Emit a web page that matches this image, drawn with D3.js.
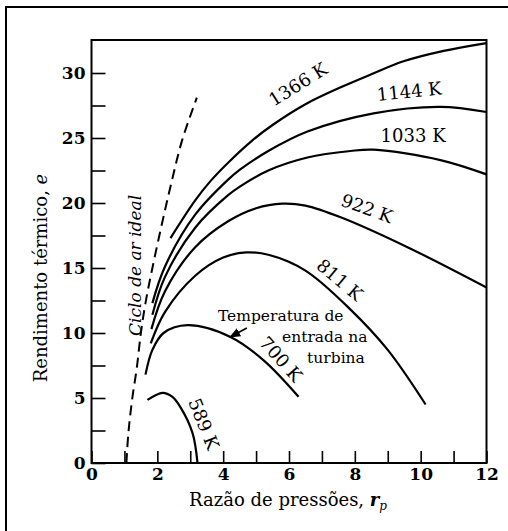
<!DOCTYPE html>
<html>
<head>
<meta charset="utf-8">
<script src="https://cdn.jsdelivr.net/npm/d3@7"></script>
<style>
  body { margin: 0; background: #fff; }
  svg { display: block; }
  text { font-family: "DejaVu Serif", serif; fill: #000; }
</style>
</head>
<body>
<svg id="chart" width="508" height="531"></svg>
<script>
// ciclo ideal (tracejado) : [r_p, e]
const ideal = [[1.06, 0], [1.12, 2.3], [1.23, 4.8], [1.38, 7.4], [1.5, 10], [1.64, 12.3],
  [1.85, 15], [2.14, 18.4], [2.45, 21.8], [2.75, 24.8], [3.2, 28.1]];

const t1366 = [[2.4, 17.3], [3.15, 20.2], [3.62, 21.7], [4.15, 23.1], [4.88, 24.8], [5.5, 26.0],
  [6.5, 27.6], [7.57, 28.9], [8.5, 29.9], [9.48, 30.9], [10.7, 31.7], [12, 32.3]];
const t1144 = [[1.85, 12.3], [2.23, 15.1], [3.15, 19.1], [4.15, 21.8], [4.53, 22.6], [5.37, 24.0],
  [6.56, 25.5], [8.57, 26.9], [10.6, 27.4], [12, 27.0]];
const t1033 = [[1.85, 11.4], [2.23, 14.3], [3.15, 18.1], [4.15, 20.6], [4.53, 21.3], [5.37, 22.5],
  [6.56, 23.5], [7.87, 24.0], [8.57, 24.1], [10.6, 23.3], [12, 22.2]];
const t922 = [[1.82, 10.3], [2.23, 13.2], [3.15, 16.6], [4.15, 18.6], [5.0, 19.6], [5.8, 19.95],
  [6.5, 19.8], [7.57, 18.9], [9.6, 16.6], [12, 13.5]];
const t811 = [[1.8, 9.2], [2.23, 11.6], [3.15, 14.4], [4.0, 15.8], [4.7, 16.2], [5.4, 16.0],
  [6.5, 14.8], [7.87, 11.8], [9.0, 8.7], [10.15, 4.5]];
const t700 = [[1.64, 6.8], [1.85, 8.7], [2.19, 10.0], [2.92, 10.6], [4.22, 9.7], [5.23, 7.9], [6.29, 5.1]];
const t589 = [[1.7, 4.85], [2.16, 5.4], [2.45, 5.1], [2.7, 4.3], [3.07, 2.3], [3.22, 0]];

const curves = [t1366, t1144, t1033, t922, t811, t700, t589];
const curveNames = ["1366 K", "1144 K", "1033 K", "922 K", "811 K", "700 K", "589 K"];

const xTicks = d3.range(0, 13, 1);
const yTicks = d3.range(0, 30.1, 2.5);

const svg = d3.select("#chart");
const margin = { top: 40, right: 21.5, bottom: 68, left: 91.5 };
const W = +svg.attr("width"), H = +svg.attr("height");

const x = d3.scaleLinear().domain([0, 12]).range([margin.left, W - margin.right]);
const y = d3.scaleLinear().domain([0, 30]).range([H - margin.bottom, 73]);

// moldura da figura
svg.append("path")
  .attr("d", "M6,531 L6,7 L508,7")
  .attr("fill", "none").attr("stroke", "#000").attr("stroke-width", 2);

// caixa do grafico
svg.append("rect")
  .attr("x", x(0)).attr("y", margin.top)
  .attr("width", x(12) - x(0)).attr("height", y(0) - margin.top)
  .attr("fill", "none").attr("stroke", "#000").attr("stroke-width", 2);

// eixos com marcas para dentro
const gx = svg.append("g")
  .attr("transform", `translate(0, ${y(0)})`)
  .call(d3.axisBottom(x).tickValues(xTicks).tickSizeInner(-12).tickSizeOuter(0).tickPadding(5)
    .tickFormat(d => d % 2 === 0 ? d : ""));
const gy = svg.append("g")
  .attr("transform", `translate(${x(0)}, 0)`)
  .call(d3.axisLeft(y).tickValues(yTicks).tickSizeInner(-14).tickSizeOuter(0).tickPadding(6)
    .tickFormat(d => d % 5 === 0 ? d : ""));
[gx, gy].forEach(g => {
  g.select(".domain").remove();
  g.selectAll("line").attr("stroke", "#000").attr("stroke-width", 1.6);
  g.selectAll("text").style("font-family", "DejaVu Serif, serif")
    .style("font-size", "17px").style("font-weight", "bold");
});

const line = d3.line()
  .x(d => x(d[0]))
  .y(d => y(d[1]))
  .curve(d3.curveCatmullRom.alpha(0.5));

svg.append("path")
  .datum(ideal)
  .attr("fill", "none").attr("stroke", "#000").attr("stroke-width", 2)
  .attr("stroke-dasharray", "10,6")
  .attr("d", line);

svg.selectAll(".curva")
  .data(curves)
  .enter()
  .append("path")
  .attr("class", "curva")
  .attr("fill", "none").attr("stroke", "#000").attr("stroke-width", 2.2)
  .attr("d", line);

// rotulos das curvas
const labelPos = [[6.27, 29.15, -32], [9.65, 28.6, -6], [9.77, 25.2, 0], [8.37, 19.6, 20],
  [7.55, 14.1, 40], [5.76, 8.0, 48], [3.42, 3.0, 68]];
svg.selectAll(".rot")
  .data(curveNames)
  .enter()
  .append("text")
  .attr("class", "rot")
  .attr("transform", (d, i) => `translate(${x(labelPos[i][0])},${y(labelPos[i][1])}) rotate(${labelPos[i][2]})`)
  .attr("text-anchor", "middle")
  .attr("dominant-baseline", "central")
  .style("font-size", "18px")
  .text(d => d);

// nota "Temperatura de entrada na turbina"
const note = [["Temperatura de", 3.84, 10.92], ["entrada na", 5.79, 9.31], ["turbina", 6.55, 7.69]];
svg.selectAll(".nota")
  .data(note)
  .enter()
  .append("text")
  .attr("x", d => x(d[1])).attr("y", d => y(d[2]))
  .style("font-size", "15.5px")
  .text(d => d[0]);

svg.append("defs").append("marker")
  .attr("id", "seta").attr("viewBox", "0 0 10 10").attr("refX", 9).attr("refY", 5)
  .attr("markerWidth", 7).attr("markerHeight", 7).attr("orient", "auto")
  .append("path").attr("d", "M0,1 L10,5 L0,9 Z").attr("fill", "#000");
svg.append("line")
  .attr("x1", x(4.72)).attr("y1", y(10.38))
  .attr("x2", x(4.21)).attr("y2", y(9.69))
  .attr("stroke", "#000").attr("stroke-width", 1.6)
  .attr("marker-end", "url(#seta)");

// ciclo ideal
svg.append("text")
  .attr("transform", `translate(${x(1.32)},${y(15.2)}) rotate(-90)`)
  .attr("text-anchor", "middle").attr("dominant-baseline", "central")
  .style("font-size", "17px").style("font-style", "italic")
  .text("Ciclo de ar ideal");

// titulos dos eixos
const yl = svg.append("text")
  .attr("transform", `translate(40,278) rotate(-90)`)
  .attr("text-anchor", "middle").attr("dominant-baseline", "central")
  .style("font-size", "18px");
yl.append("tspan").text("Rendimento térmico, ");
yl.append("tspan").style("font-style", "italic").text("e");

const xl = svg.append("text")
  .attr("x", 288).attr("y", 506)
  .attr("text-anchor", "middle")
  .style("font-size", "18px");
xl.append("tspan").text("Razão de pressões, ");
xl.append("tspan").style("font-style", "italic").style("font-weight", "bold").text("r");
xl.append("tspan").attr("dy", 4).style("font-style", "italic").style("font-size", "12px").text("p");
</script>
</body>
</html>
